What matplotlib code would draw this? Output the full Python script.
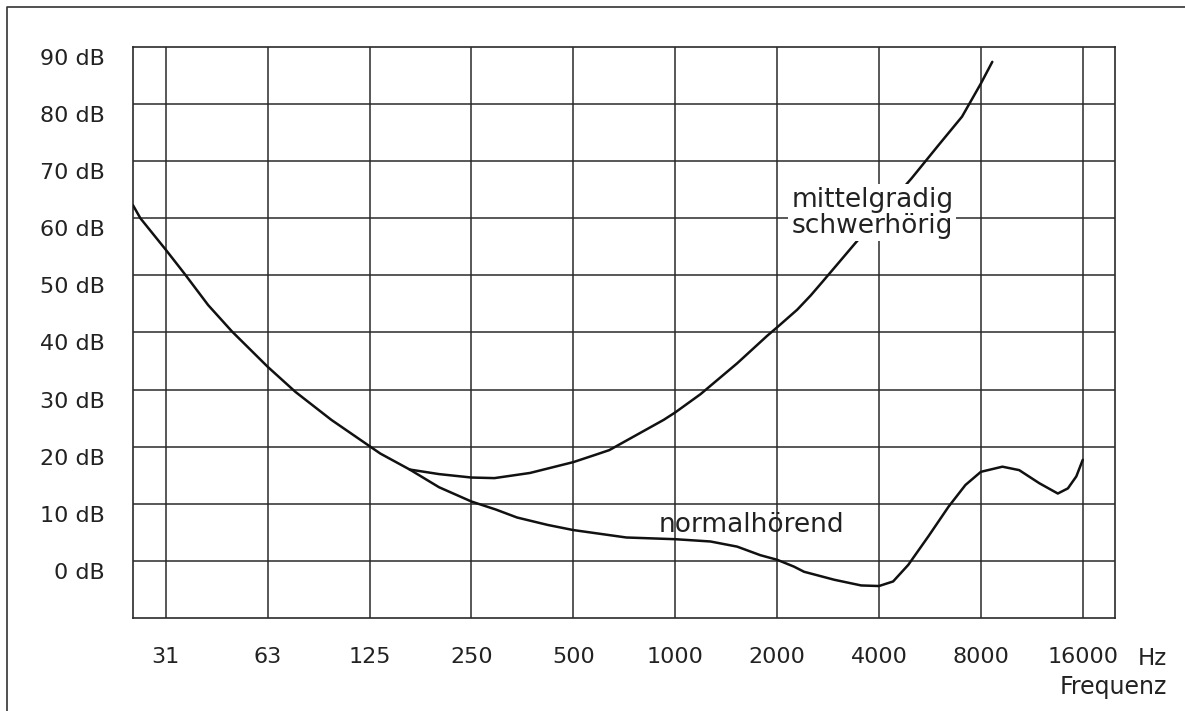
import matplotlib
matplotlib.use('Agg')
import matplotlib.pyplot as plt
from matplotlib.lines import Line2D
from matplotlib.transforms import ScaledTranslation

plt.rcParams['font.family'] = ['DejaVu Sans']

# Octave grid (Hz) and labels
freqs = [31.25, 62.5, 125, 250, 500, 1000, 2000, 4000, 8000, 16000]
freq_labels = ['31', '63', '125', '250', '500', '1000', '2000', '4000', '8000', '16000']
db_levels = [0, 10, 20, 30, 40, 50, 60, 70, 80, 90]

# Hearing threshold, normal hearing
normal_hz = [25.0, 26.3, 31.25, 35.5, 41.7, 49.0, 62.5, 75.5, 96.4, 125, 134.5, 164.3,
	200.6, 250, 295, 341, 420, 500, 717, 1000, 1271, 1524, 1785, 2000, 2243, 2402,
	2950, 3544, 4000, 4404, 4881, 5598, 6422, 7204, 8000, 9263, 10381, 11910, 13503,
	14462, 15315, 16000]
normal_db = [62.3, 60.0, 54.5, 50.3, 44.8, 40.2, 34.0, 29.6, 24.7, 20.1, 18.8, 16.0,
	12.9, 10.4, 9.0, 7.6, 6.3, 5.4, 4.1, 3.8, 3.4, 2.5, 1.0, 0.2, -1.0, -1.9,
	-3.3, -4.3, -4.4, -3.6, -0.7, 4.3, 9.5, 13.3, 15.6, 16.5, 15.9, 13.6, 11.8,
	12.7, 14.8, 17.7]

# Moderate hearing loss
moderate_hz = [164.3, 200.6, 250, 292.4, 372.3, 500, 582.4, 638.6, 924.6, 1000, 1188,
	1524, 1868, 2000, 2294, 2515, 2725, 3019, 3399, 4993, 5996, 7037, 8000, 8647]
moderate_db = [16.0, 15.2, 14.6, 14.5, 15.4, 17.3, 18.6, 19.4, 24.7, 26.0, 29.2,
	34.6, 39.4, 40.9, 44.0, 46.5, 48.9, 52.0, 55.6, 67.0, 72.8, 77.8, 83.6, 87.4]

fig = plt.figure(figsize=(11.85, 7.11), dpi=100)
ax = fig.add_axes([0.1122, 0.1308, 0.8287, 0.8031])

grid_col = '#2a2a2a'
ax.set_xscale('log', base=2)
ax.set_xlim(25.0, 19920)
ax.set_ylim(-10, 90)
ax.set_xticks(freqs)
ax.set_xticklabels(freq_labels)
ax.set_xticks([], minor=True)
ax.set_yticks(db_levels[:-1])
ax.set_yticklabels([])
ax.tick_params(length=0, labelsize=16, pad=21, colors='#222222')
ax.grid(True, color=grid_col, linewidth=1.1)
for s in ax.spines.values():
	s.set_color(grid_col)
	s.set_linewidth(1.2)

# Curves
ax.plot(normal_hz, normal_db, color='#111111', linewidth=1.8, zorder=3,
	solid_joinstyle='round', solid_capstyle='round')
ax.plot(moderate_hz, moderate_db, color='#111111', linewidth=1.8, zorder=3,
	solid_joinstyle='round', solid_capstyle='round')

# dB labels sit a little below their grid lines
off = ScaledTranslation(-0.28, -0.12, fig.dpi_scale_trans)
for d in db_levels:
	ax.text(0, d, '%d dB' % d, transform=ax.get_yaxis_transform() + off,
		ha='right', va='center', fontsize=16, color='#222222', clip_on=False)

# Curve labels
ax.text(891, 6.3, 'normalhörend', fontsize=19, ha='left', va='center', color='#222222', zorder=4)
ax.text(2203, 61.0, 'mittelgradig\nschwerhörig', fontsize=19, ha='left', va='center',
	color='#222222', linespacing=1.0, zorder=5,
	bbox=dict(facecolor='white', edgecolor='none', pad=2))

# Unit and axis name at the right
ax.annotate('Hz', xy=(16000, 0), xycoords=('data', 'axes fraction'), xytext=(61, -21),
	textcoords='offset points', ha='right', va='top', fontsize=16.5, color='#222222')
ax.annotate('Frequenz', xy=(16000, 0), xycoords=('data', 'axes fraction'), xytext=(61, -41),
	textcoords='offset points', ha='right', va='top', fontsize=17, color='#222222')

# Page frame of the scan
fig.add_artist(Line2D([7/1185, 7/1185, 1], [0, 1 - 7/711, 1 - 7/711],
	transform=fig.transFigure, color='#333333', linewidth=1.2))

plt.savefig('out.png', dpi=100)
